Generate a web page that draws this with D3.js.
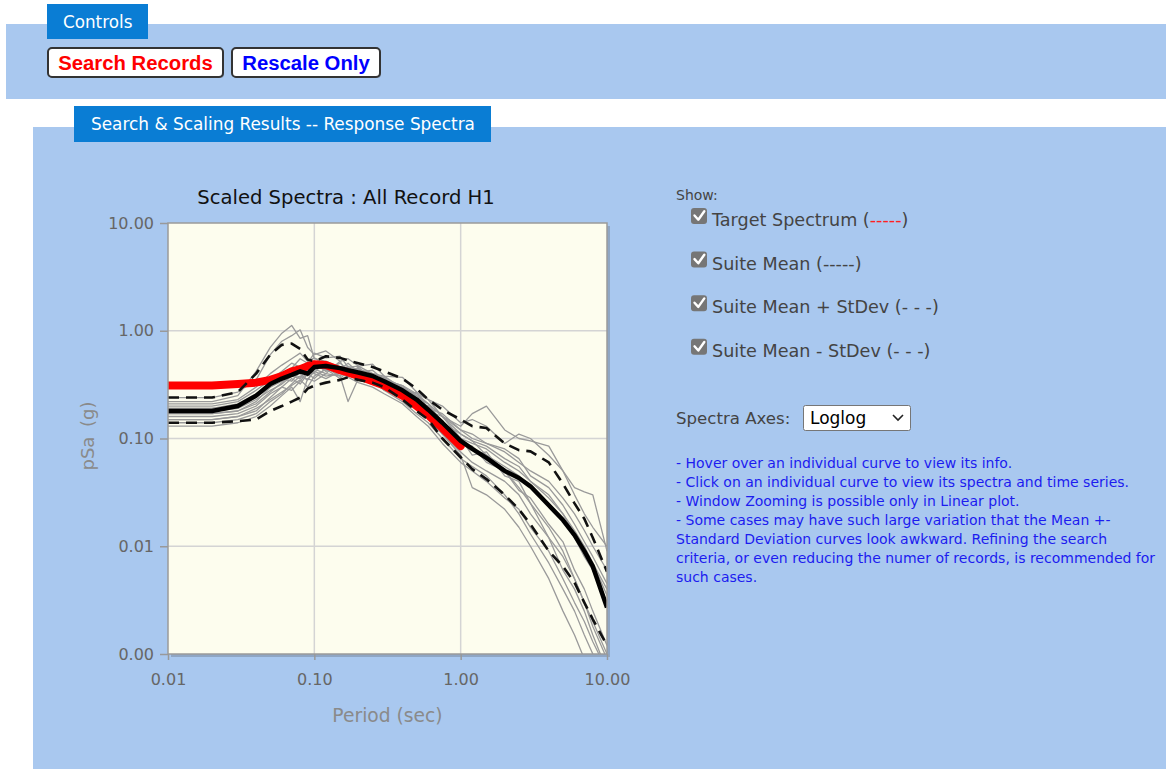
<!DOCTYPE html>
<html>
<head>
<meta charset="utf-8">
<script src="https://cdn.jsdelivr.net/npm/d3@7"></script>
<style>
  html, body { margin: 0; padding: 0; background: #ffffff; }
  svg { display: block; font-family: "DejaVu Sans", Verdana, sans-serif; }
</style>
</head>
<body>
<svg id="page" width="1166" height="769"></svg>
<script>
// Spectral periods (sec)
const periods = [0.01, 0.02, 0.03, 0.04, 0.05, 0.06, 0.07, 0.08, 0.09, 0.10,
  0.12, 0.15, 0.17, 0.20, 0.25, 0.30, 0.40, 0.50, 0.60, 0.75,
  1.0, 1.2, 1.5, 2.0, 2.5, 3.0, 4.0, 5.0, 6.0, 7.0, 8.0, 10.0];

// Target spectrum, defined up to T = 1.0 s
const targetPeriods = periods.slice(0, 21);
const targetSa = [0.31, 0.31, 0.32, 0.33, 0.35, 0.38, 0.42, 0.44, 0.47, 0.49,
  0.48, 0.43, 0.41, 0.38, 0.34, 0.31, 0.25, 0.20, 0.165, 0.125, 0.085];

// Suite statistics
const meanSa = [0.18, 0.18, 0.20, 0.25, 0.32, 0.36, 0.39, 0.42, 0.40, 0.46,
  0.47, 0.45, 0.43, 0.41, 0.38, 0.34, 0.28, 0.23, 0.185, 0.14,
  0.095, 0.08, 0.066, 0.05, 0.043, 0.036, 0.024, 0.0175, 0.0127, 0.009, 0.0065, 0.0027];
const meanPlusSa = [0.24, 0.24, 0.27, 0.40, 0.60, 0.74, 0.76, 0.68, 0.54, 0.52,
  0.58, 0.56, 0.53, 0.50, 0.46, 0.42, 0.36, 0.29, 0.23, 0.185,
  0.15, 0.13, 0.125, 0.09, 0.078, 0.076, 0.06, 0.038, 0.025, 0.018, 0.012, 0.0058];
const meanMinusSa = [0.14, 0.14, 0.145, 0.15, 0.18, 0.20, 0.22, 0.24, 0.29, 0.31,
  0.33, 0.35, 0.37, 0.35, 0.33, 0.30, 0.23, 0.18, 0.15, 0.10,
  0.067, 0.052, 0.042, 0.03, 0.022, 0.016, 0.009, 0.0065, 0.0046, 0.003, 0.0021, 0.0012];

// Individual scaled records (H1)
const rec01 = [0.22, 0.22, 0.25, 0.42, 0.70, 0.95, 1.12, 0.85, 0.90, 0.55, 0.52, 0.44, 0.50, 0.41, 0.43, 0.35, 0.31, 0.24, 0.21, 0.14, 0.11, 0.095, 0.07, 0.05, 0.035, 0.025, 0.012, 0.006, 0.004, 0.0025, 0.0015, 0.0007];
const rec02 = [0.24, 0.24, 0.27, 0.35, 0.60, 0.80, 0.90, 1.02, 0.70, 0.60, 0.65, 0.52, 0.55, 0.47, 0.49, 0.38, 0.37, 0.27, 0.23, 0.16, 0.13, 0.17, 0.20, 0.12, 0.10, 0.095, 0.085, 0.05, 0.035, 0.032, 0.03, 0.009];
const rec03 = [0.17, 0.17, 0.18, 0.22, 0.30, 0.38, 0.45, 0.55, 0.50, 0.62, 0.56, 0.58, 0.46, 0.47, 0.40, 0.38, 0.29, 0.26, 0.23, 0.20, 0.14, 0.15, 0.13, 0.09, 0.11, 0.10, 0.07, 0.05, 0.03, 0.02, 0.015, 0.010];
const rec04 = [0.15, 0.15, 0.16, 0.18, 0.24, 0.30, 0.36, 0.32, 0.40, 0.36, 0.45, 0.38, 0.43, 0.36, 0.37, 0.28, 0.25, 0.19, 0.17, 0.11, 0.07, 0.035, 0.03, 0.022, 0.015, 0.010, 0.005, 0.0025, 0.0015, 0.0009, 0.0006, 0.0004];
const rec05 = [0.19, 0.19, 0.21, 0.26, 0.32, 0.36, 0.34, 0.42, 0.38, 0.48, 0.43, 0.50, 0.44, 0.44, 0.35, 0.35, 0.27, 0.25, 0.18, 0.16, 0.10, 0.09, 0.08, 0.06, 0.05, 0.04, 0.03, 0.02, 0.013, 0.009, 0.007, 0.004];
const rec06 = [0.13, 0.13, 0.14, 0.16, 0.20, 0.25, 0.30, 0.22, 0.36, 0.34, 0.40, 0.38, 0.22, 0.36, 0.34, 0.28, 0.22, 0.17, 0.14, 0.10, 0.065, 0.055, 0.045, 0.03, 0.02, 0.013, 0.007, 0.004, 0.0025, 0.0015, 0.001, 0.0005];
const rec07 = [0.20, 0.20, 0.22, 0.28, 0.35, 0.42, 0.50, 0.46, 0.40, 0.45, 0.52, 0.46, 0.41, 0.38, 0.39, 0.32, 0.28, 0.21, 0.20, 0.13, 0.09, 0.08, 0.07, 0.055, 0.045, 0.035, 0.025, 0.018, 0.012, 0.008, 0.006, 0.003];
const rec08 = [0.16, 0.16, 0.17, 0.20, 0.26, 0.30, 0.28, 0.34, 0.42, 0.40, 0.36, 0.42, 0.38, 0.37, 0.39, 0.32, 0.26, 0.21, 0.15, 0.11, 0.075, 0.06, 0.05, 0.04, 0.03, 0.02, 0.012, 0.008, 0.005, 0.003, 0.002, 0.001];
const rec09 = [0.18, 0.18, 0.19, 0.23, 0.28, 0.32, 0.38, 0.36, 0.44, 0.50, 0.42, 0.46, 0.44, 0.40, 0.38, 0.35, 0.31, 0.26, 0.21, 0.16, 0.11, 0.095, 0.085, 0.065, 0.055, 0.04, 0.028, 0.02, 0.014, 0.01, 0.007, 0.0035];
const rec10 = [0.14, 0.14, 0.15, 0.17, 0.22, 0.26, 0.32, 0.38, 0.35, 0.42, 0.38, 0.40, 0.37, 0.33, 0.30, 0.26, 0.21, 0.16, 0.13, 0.09, 0.06, 0.05, 0.04, 0.028, 0.022, 0.015, 0.009, 0.005, 0.003, 0.002, 0.0013, 0.0007];
const rec11 = [0.21, 0.21, 0.23, 0.30, 0.40, 0.48, 0.55, 0.62, 0.52, 0.56, 0.48, 0.44, 0.46, 0.44, 0.40, 0.37, 0.30, 0.25, 0.21, 0.16, 0.12, 0.10, 0.09, 0.075, 0.06, 0.05, 0.04, 0.028, 0.02, 0.014, 0.01, 0.006];
const rec12 = [0.17, 0.17, 0.18, 0.21, 0.27, 0.33, 0.40, 0.37, 0.46, 0.41, 0.52, 0.41, 0.47, 0.37, 0.40, 0.31, 0.29, 0.22, 0.20, 0.13, 0.10, 0.07, 0.075, 0.045, 0.04, 0.025, 0.015, 0.009, 0.005, 0.003, 0.0018, 0.0009];
const rec13 = [0.15, 0.15, 0.16, 0.19, 0.23, 0.27, 0.31, 0.35, 0.30, 0.38, 0.44, 0.36, 0.42, 0.45, 0.34, 0.36, 0.26, 0.24, 0.16, 0.14, 0.09, 0.085, 0.06, 0.05, 0.033, 0.028, 0.016, 0.011, 0.006, 0.004, 0.0025, 0.0012];
const rec14 = [0.19, 0.19, 0.20, 0.24, 0.30, 0.34, 0.44, 0.40, 0.35, 0.44, 0.40, 0.52, 0.39, 0.46, 0.35, 0.37, 0.25, 0.27, 0.19, 0.17, 0.12, 0.11, 0.09, 0.08, 0.065, 0.045, 0.035, 0.024, 0.016, 0.011, 0.008, 0.0045];
const records = [rec01, rec02, rec03, rec04, rec05, rec06, rec07, rec08, rec09, rec10, rec11, rec12, rec13, rec14];

// Axis ticks
const xTicks = [0.01, 0.1, 1, 10];
const yTicks = [0.001, 0.01, 0.1, 1, 10];

const legendItems = [
  { label: "Target Spectrum (", dash: "-----", dashColor: "#ff2020", tail: ")" },
  { label: "Suite Mean (-----)" },
  { label: "Suite Mean + StDev (- - -)" },
  { label: "Suite Mean - StDev (- - -)" }
];
const notes = [
  "- Hover over an individual curve to view its info.",
  "- Click on an individual curve to view its spectra and time series.",
  "- Window Zooming is possible only in Linear plot.",
  "- Some cases may have such large variation that the Mean +-",
  "Standard Deviation curves look awkward. Refining the search",
  "criteria, or even reducing the numer of records, is recommended for",
  "such cases."
];

const svg = d3.select("#page");
const panelBlue = "#a9c8ef";
const tabBlue = "#0a7dd4";

// ---------- Controls panel ----------
svg.append("rect").attr("x", 6).attr("y", 24).attr("width", 1160).attr("height", 75).attr("fill", panelBlue);
svg.append("rect").attr("x", 47).attr("y", 4).attr("width", 101).attr("height", 35).attr("fill", tabBlue);
svg.append("text").attr("x", 63).attr("y", 28).attr("fill", "#fff").attr("font-size", 16.8).text("Controls");

function button(x, w, label, color) {
  svg.append("rect").attr("x", x + 1).attr("y", 49).attr("width", w).attr("height", 29)
    .attr("rx", 4).attr("fill", "#555").attr("opacity", 0.5);
  svg.append("rect").attr("x", x).attr("y", 48).attr("width", w).attr("height", 29)
    .attr("rx", 4).attr("fill", "#fff").attr("stroke", "#333").attr("stroke-width", 2);
  svg.append("text").attr("x", x + w / 2).attr("y", 70).attr("text-anchor", "middle")
    .attr("fill", color).attr("font-family", "'Liberation Sans', Arial, sans-serif")
    .attr("font-weight", "bold").attr("font-size", 20.3).text(label);
}
button(48, 175, "Search Records", "#ff0000");
button(232, 148, "Rescale Only", "#0000ff");

// ---------- Results panel ----------
svg.append("rect").attr("x", 33).attr("y", 127).attr("width", 1133).attr("height", 642).attr("fill", panelBlue);
svg.append("rect").attr("x", 74).attr("y", 106).attr("width", 417).attr("height", 36).attr("fill", tabBlue);
svg.append("text").attr("x", 91).attr("y", 130).attr("fill", "#fff").attr("font-size", 16.9)
  .text("Search & Scaling Results -- Response Spectra");

// ---------- Spectra chart ----------
const plot = { left: 168, right: 607, top: 223, bottom: 654 };
const x = d3.scaleLog().domain([0.01, 10]).range([plot.left, plot.right]);
const y = d3.scaleLog().domain([0.001, 10]).range([plot.bottom, plot.top]);

svg.append("text").attr("x", 346).attr("y", 204)
  .attr("text-anchor", "middle").attr("font-size", 19.6).attr("fill", "#111")
  .text("Scaled Spectra : All Record H1");

// frame shadow + background
svg.append("rect").attr("x", plot.left + 3).attr("y", plot.top + 3)
  .attr("width", plot.right - plot.left).attr("height", plot.bottom - plot.top)
  .attr("fill", "#7f8fa6").attr("opacity", 0.6);
svg.append("rect").attr("x", plot.left).attr("y", plot.top)
  .attr("width", plot.right - plot.left).attr("height", plot.bottom - plot.top)
  .attr("fill", "#fdfdee");

// grid
const grid = svg.append("g").attr("stroke", "#d4d4d4").attr("stroke-width", 1.5);
grid.selectAll(".gx").data(xTicks.slice(1, -1)).join("line")
  .attr("x1", d => x(d)).attr("x2", d => x(d)).attr("y1", plot.top).attr("y2", plot.bottom);
grid.selectAll(".gy").data(yTicks.slice(1, -1)).join("line")
  .attr("y1", d => y(d)).attr("y2", d => y(d)).attr("x1", plot.left).attr("x2", plot.right);

svg.append("clipPath").attr("id", "plotClip").append("rect")
  .attr("x", plot.left).attr("y", plot.top)
  .attr("width", plot.right - plot.left).attr("height", plot.bottom - plot.top);

const lines = svg.append("g").attr("clip-path", "url(#plotClip)").attr("fill", "none")
  .attr("stroke-linejoin", "round");
const lineGen = (xs) => d3.line().x((d, i) => x(xs[i])).y(d => y(d));

lines.selectAll(".rec").data(records).join("path")
  .attr("d", d => lineGen(periods)(d))
  .attr("stroke", "#9a9a9a").attr("stroke-width", 1.3);

lines.append("path").attr("d", lineGen(targetPeriods)(targetSa))
  .attr("stroke", "#ff0000").attr("stroke-width", 8).attr("stroke-linecap", "round");

[meanPlusSa, meanMinusSa].forEach(s => {
  lines.append("path").attr("d", lineGen(periods)(s))
    .attr("stroke", "#111").attr("stroke-width", 2.6).attr("stroke-dasharray", "11,7");
});
lines.append("path").attr("d", lineGen(periods)(meanSa))
  .attr("stroke", "#000").attr("stroke-width", 4.5);

// frame border
svg.append("rect").attr("x", plot.left).attr("y", plot.top)
  .attr("width", plot.right - plot.left).attr("height", plot.bottom - plot.top)
  .attr("fill", "none").attr("stroke", "#9a9a9a").attr("stroke-width", 1.5);

// axes
const fmt = d3.format(".2f");
const yAxis = svg.append("g").attr("transform", `translate(${plot.left},0)`)
  .call(d3.axisLeft(y).tickValues(yTicks).tickFormat(fmt).tickSize(8).tickPadding(6));
const xAxis = svg.append("g").attr("transform", `translate(0,${plot.bottom})`)
  .call(d3.axisBottom(x).tickValues(xTicks).tickFormat(fmt).tickSize(6).tickPadding(14));
[xAxis, yAxis].forEach(a => {
  a.select(".domain").remove();
  a.selectAll(".tick line").attr("stroke", "#999").attr("stroke-width", 1.5);
  a.selectAll(".tick text").attr("fill", "#666").attr("font-size", 16)
    .attr("font-family", "'DejaVu Sans', Verdana, sans-serif");
});

svg.append("text").attr("x", (plot.left + plot.right) / 2).attr("y", 722)
  .attr("text-anchor", "middle").attr("fill", "#8a8a8a").attr("font-size", 18.7)
  .text("Period (sec)");
svg.append("text").attr("transform", `translate(94,436) rotate(-90)`)
  .attr("text-anchor", "middle").attr("fill", "#8a8a8a").attr("font-size", 18)
  .attr("word-spacing", 4).text("pSa (g)");

// ---------- Display options ----------
svg.append("text").attr("x", 676).attr("y", 200).attr("font-size", 14).attr("fill", "#444").text("Show:");
legendItems.forEach((item, i) => {
  const by = 226 + i * 43.6;
  svg.append("rect").attr("x", 691).attr("y", by - 18).attr("width", 16).attr("height", 16)
    .attr("rx", 3).attr("fill", "#767676");
  svg.append("path").attr("d", `M694.5,${by - 10.5} L698.3,${by - 6.3} L704.3,${by - 14.8}`)
    .attr("fill", "none").attr("stroke", "#fff").attr("stroke-width", 2.4)
    .attr("stroke-linecap", "round").attr("stroke-linejoin", "round");
  const t = svg.append("text").attr("x", 712).attr("y", by).attr("font-size", 17.6).attr("fill", "#444");
  t.append("tspan").text(item.label);
  if (item.dash) {
    t.append("tspan").attr("fill", item.dashColor).text(item.dash);
    t.append("tspan").text(item.tail);
  }
});

svg.append("text").attr("x", 676).attr("y", 424).attr("font-size", 16.6).attr("fill", "#444").text("Spectra Axes:");
svg.append("rect").attr("x", 803.5).attr("y", 405.5).attr("width", 107).attr("height", 25)
  .attr("rx", 2).attr("fill", "#fff").attr("stroke", "#767676");
svg.append("text").attr("x", 810).attr("y", 424).attr("font-size", 17).attr("fill", "#000").text("Loglog");
svg.append("path").attr("d", "M893,415 L898,420 L903,415").attr("fill", "none")
  .attr("stroke", "#222").attr("stroke-width", 1.6);

svg.append("g").selectAll("text").data(notes).join("text")
  .attr("x", 676).attr("y", (d, i) => 468 + i * 19)
  .attr("font-size", 14).attr("fill", "#1c1cf0").text(d => d);
</script>
</body>
</html>
